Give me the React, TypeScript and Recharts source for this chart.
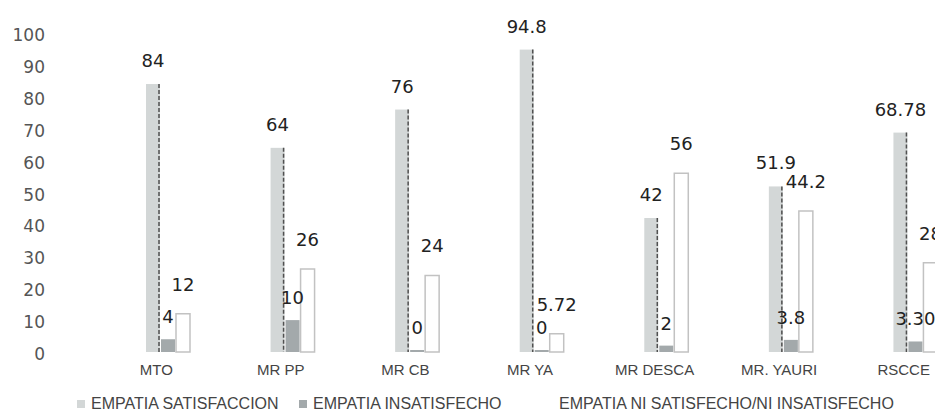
import { BarChart, Bar, XAxis, YAxis, Legend, LabelList } from "recharts";

const categories = ["MTO", "MR PP", "MR CB", "MR YA", "MR DESCA", "MR. YAURI", "RSCCE"];
const satisfaccion = [84, 64, 76, 94.8, 42, 51.9, 68.78];
const insatisfecho = [4, 10, 0, 0, 2, 3.8, 3.3];
const insatisfechoText = ["4", "10", "0", "0", "2", "3.8", "3.30"];
const niSatisfecho = [12, 26, 24, 5.72, 56, 44.2, 28];
const yTicks = [0, 10, 20, 30, 40, 50, 60, 70, 80, 90, 100];

const seriesNames = [
  "EMPATIA SATISFACCION",
  "EMPATIA INSATISFECHO",
  "EMPATIA NI SATISFECHO/NI INSATISFECHO",
];
const COLORS = ["#d3d7d7", "#a3a9ab", "#ffffff"];

const data = categories.map((name, i) => ({
  name,
  sat: satisfaccion[i],
  insat: insatisfecho[i],
  insatText: insatisfechoText[i],
  ni: niSatisfecho[i],
}));

const labelFont = "'DejaVu Sans', sans-serif";
const textFont = "'Liberation Sans', Arial, sans-serif";

// scanned look: light bar with a dark dotted right edge
const SatShape = (props: any) => {
  const { x, y, width, height, fill } = props;
  return (
    <g>
      <rect x={x} y={y} width={width} height={height} fill={fill} />
      <line
        x1={x + width - 1}
        y1={y}
        x2={x + width - 1}
        y2={y + height}
        stroke="#505050"
        strokeWidth={1.5}
        strokeDasharray="4 2"
      />
    </g>
  );
};

const legendX = [77, 299, 545];

const CustomLegend = () => (
  <div style={{ position: "relative", height: 35, width: 990 }}>
    {seriesNames.map((n, i) => (
      <div
        key={n}
        style={{
          position: "absolute",
          left: legendX[i],
          top: 13,
          display: "flex",
          alignItems: "center",
          fontFamily: textFont,
          fontSize: 16,
          color: "#444",
          whiteSpace: "nowrap",
        }}
      >
        <span
          style={{
            display: "inline-block",
            width: 8,
            height: 8,
            background: COLORS[i],
            marginRight: 6,
          }}
        />
        {n}
      </div>
    ))}
  </div>
);

export default function App() {
  return (
    <div
      style={{
        position: "absolute",
        left: 0,
        top: 0,
        width: 935,
        height: 417,
        overflow: "hidden",
        background: "#fff",
      }}
    >
      <BarChart
        width={990}
        height={417}
        data={data}
        margin={{ top: 33, right: 12, bottom: 0, left: 0 }}
        barSize={14}
        barGap={1}
      >
        <XAxis
          dataKey="name"
          axisLine={false}
          tickLine={false}
          height={30}
          interval={0}
          tick={{ fill: "#444", fontSize: 15, fontFamily: textFont, dx: -12, dy: 4 }}
        />
        <YAxis
          width={106}
          domain={[0, 100]}
          ticks={yTicks}
          axisLine={false}
          tickLine={false}
          interval={0}
          tick={{ fill: "#555", fontSize: 17, fontFamily: labelFont, dx: -53, dy: 2 }}
        />
        <Legend verticalAlign="bottom" content={<CustomLegend />} />
        <Bar
          dataKey="sat"
          name={seriesNames[0]}
          fill={COLORS[0]}
          shape={<SatShape />}
          isAnimationActive={false}
        >
          <LabelList
            dataKey="sat"
            position="top"
            offset={17}
            fill="#222"
            fontSize={18}
            fontFamily={labelFont}
          />
        </Bar>
        <Bar
          dataKey="insat"
          name={seriesNames[1]}
          fill={COLORS[1]}
          minPointSize={2}
          isAnimationActive={false}
        >
          <LabelList
            dataKey="insatText"
            position="top"
            offset={16}
            fill="#222"
            fontSize={18}
            fontFamily={labelFont}
          />
        </Bar>
        <Bar
          dataKey="ni"
          name={seriesNames[2]}
          fill={COLORS[2]}
          stroke="#c2c2c2"
          strokeWidth={1.5}
          isAnimationActive={false}
        >
          <LabelList
            dataKey="ni"
            position="top"
            offset={23}
            fill="#222"
            fontSize={18}
            fontFamily={labelFont}
          />
        </Bar>
      </BarChart>
    </div>
  );
}
